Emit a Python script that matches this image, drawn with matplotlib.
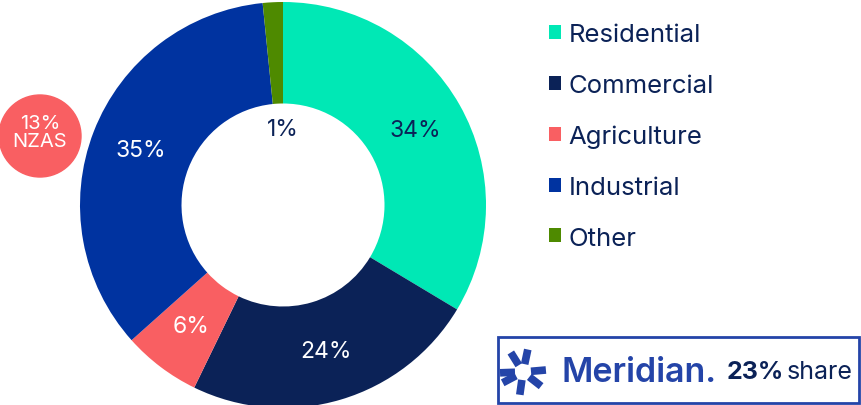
import matplotlib
matplotlib.use("Agg")
import matplotlib.pyplot as plt
import numpy as np
from matplotlib.patches import Circle, Rectangle, Patch

categories = ["Residential", "Commercial", "Agriculture", "Industrial", "Other"]
values = [33.6, 23.6, 6.2, 35.0, 1.6]
pct_labels = ["34%", "24%", "6%", "35%", "1%"]
colors = ["#00E8B5", "#0B2257", "#F95F62", "#0033A0", "#4E8A00"]
label_colors = ["#0B2257", "white", "white", "white", "#0B2257"]
nzas_text = "13%\nNZAS"
share_value = "23%"

plt.rcParams['font.family'] = ['Inter', 'DejaVu Sans']
W, H = 861, 406
fig = plt.figure(figsize=(W / 100, H / 100), dpi=100)
ax = fig.add_axes([0, 0, 1, 1])

cx, cy, R = 283, H - 206, 203
wedges, _ = ax.pie(values, colors=colors, startangle=90, counterclock=False,
                   center=(cx, cy), radius=R, frame=True,
                   wedgeprops=dict(width=R * 0.5, edgecolor='none'))
ax.set_xlim(0, W)
ax.set_ylim(0, H)
ax.set_aspect('equal')
ax.axis('off')

# percentage labels
label_r = [0.75, 0.75, 0.75, 0.75, 0.38]
cum = np.cumsum([0] + values)
for i, (lab, c) in enumerate(zip(pct_labels, label_colors)):
    mid = (cum[i] + cum[i + 1]) / 2 / sum(values) * 360
    ang = np.deg2rad(90 - mid)
    r = R * label_r[i]
    if i == 4:
        x, y = cx, H - 130
    else:
        x, y = cx + r * np.cos(ang), cy + r * np.sin(ang)
    ax.text(x, y, lab, color=c, fontsize=16.5, ha='center', va='center')

# NZAS bubble
ax.add_patch(Circle((40, H - 137), 41, color="#F95F62", zorder=5))
ax.text(40, H - 133, nzas_text, color='white', fontsize=14.5, ha='center',
        va='center', linespacing=1.0, zorder=6)

# legend
handles = [Patch(facecolor=c, edgecolor='none') for c in colors]
leg = ax.legend(handles, categories, loc='upper left', bbox_to_anchor=(549 / W, 1 - 24 / H),
                frameon=False, fontsize=18.5, labelcolor="#0B2257",
                handlelength=0.45, handleheight=0.45, handletextpad=0.3,
                labelspacing=1.08, borderaxespad=0, borderpad=0)

# Meridian box
ax.add_patch(Rectangle((498, H - 404), 361, 66, fill=False, edgecolor="#2444A8", lw=2))
lx, ly = 523, H - 373
for a in [78, 122, 5, -38, -98, -152, 182]:
    t = np.deg2rad(a)
    ax.plot([lx + 8 * np.cos(t), lx + 23 * np.cos(t)],
            [ly + 8 * np.sin(t), ly + 23 * np.sin(t)],
            color="#2444A8", lw=5.5, solid_capstyle='butt')
ax.text(562, ly, "Meridian.", color="#2444A8", fontsize=24.5, fontweight='semibold',
        ha='left', va='center')
ax.text(727, ly, share_value, color="#0B2257", fontsize=18, fontweight='bold',
        ha='left', va='center')
ax.text(787, ly, "share", color="#0B2257", fontsize=18, ha='left', va='center')

fig.savefig("out.png", dpi=100)
